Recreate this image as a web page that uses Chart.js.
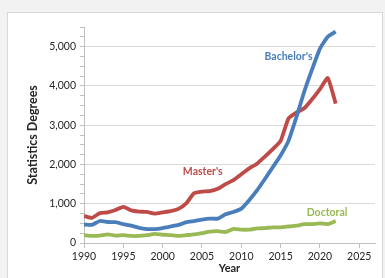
<!DOCTYPE html>
<html>
<head>
<meta charset="utf-8">
<script src="https://cdn.jsdelivr.net/npm/chart.js@4"></script>
<style>
  body { margin: 0; background: #f2f2f2; width: 385px; height: 278px; overflow: hidden; position: relative; }
  #frame { position: absolute; left: 7px; top: 12px; width: 374px; height: 300px; background: #fff; border: 1px solid #d9d9d9; }
  #chart { position: absolute; left: 0; top: 0; }
</style>
</head>
<body>
<div id="frame"></div>
<canvas id="chart" width="385" height="278"></canvas>
<script>
// Datos
const years = [1990,1991,1992,1993,1994,1995,1996,1997,1998,1999,2000,2001,2002,2003,2004,2005,2006,2007,2008,2009,2010,2011,2012,2013,2014,2015,2016,2017,2018,2019,2020,2021,2022];
const bachelors = [470,460,560,535,530,480,440,385,355,355,380,420,460,530,560,595,620,620,730,790,875,1090,1340,1630,1930,2230,2600,3200,3850,4420,4950,5250,5380];
const masters = [690,640,760,780,840,920,830,800,790,750,780,810,870,1010,1270,1310,1320,1380,1500,1600,1750,1900,2020,2200,2390,2600,3170,3320,3430,3660,3920,4200,3550];
const doctoral = [200,180,190,220,190,200,180,180,200,230,210,200,180,200,220,250,290,300,280,360,340,340,370,380,400,400,420,440,480,480,500,480,560];
const xTicks = [1990,1995,2000,2005,2010,2015,2020,2025];
const seriesNames = ["Bachelor's", "Master's", "Doctoral"];
// etiquetas de las series en coordenadas de datos (año, valor)
const labelYears = [2016, 2005.1, 2020.9];
const labelValues = [4740, 1810, 765];

const colors = ['#4a7ebb', '#be4b48', '#98b954'];
const FONT = 'Lato, "Open Sans", sans-serif';

function toPoints(arr) {
    return arr.map((v, i) => ({ x: years[i], y: v }));
}

// Plugin para dibujar los nombres de las series
const seriesLabels = {
    id: 'seriesLabels',
    afterDatasetsDraw(chart) {
        const { ctx, scales } = chart;
        ctx.save();
        ctx.font = 'bold 10.5px ' + FONT;
        ctx.textAlign = 'center';
        ctx.textBaseline = 'middle';
        seriesNames.forEach((name, i) => {
            ctx.fillStyle = colors[i];
            ctx.fillText(name, scales.x.getPixelForValue(labelYears[i]), scales.y.getPixelForValue(labelValues[i]));
        });
        ctx.restore();
    }
};

new Chart(document.getElementById('chart'), {
    type: 'line',
    data: {
        datasets: [bachelors, masters, doctoral].map((arr, i) => ({
            label: seriesNames[i],
            data: toPoints(arr),
            borderColor: colors[i],
            borderWidth: 3.8,
            tension: 0.15,
            pointRadius: 0,
            fill: false
        }))
    },
    options: {
        responsive: false,
        animation: false,
        layout: { padding: { top: 27, right: 10, left: 0, bottom: 0 } },
        plugins: { legend: { display: false }, tooltip: { enabled: false } },
        scales: {
            x: {
                type: 'linear',
                min: 1990,
                max: 2027,
                afterBuildTicks: (scale) => { scale.ticks = xTicks.map(v => ({ value: v })); },
                afterFit: (scale) => { scale.height = 35; },
                border: { color: '#bfbfbf', width: 1 },
                grid: { drawOnChartArea: false, tickLength: 5, tickColor: '#bfbfbf' },
                ticks: {
                    color: '#262626',
                    font: { family: FONT, size: 10.5 },
                    padding: 2,
                    maxRotation: 0,
                    callback: (v) => String(v)
                },
                title: {
                    display: true,
                    text: 'Year',
                    color: '#262626',
                    font: { family: FONT, size: 11, weight: 'bold' },
                    padding: { top: 0, bottom: 3 }
                }
            },
            y: {
                min: 0,
                max: 5500,
                afterFit: (scale) => { scale.width = 84; },
                border: { color: '#bfbfbf', width: 1 },
                grid: {
                    color: (c) => (c.tick && c.tick.value % 1000 === 0 && c.tick.value > 0) ? '#d9d9d9' : 'rgba(0,0,0,0)',
                    tickColor: '#bfbfbf',
                    tickLength: 4
                },
                ticks: {
                    stepSize: 250,
                    color: '#262626',
                    font: { family: FONT, size: 10.5 },
                    padding: 4,
                    autoSkip: false,
                    callback: (v) => v % 1000 === 0 ? v.toLocaleString('en-US') : ''
                },
                title: {
                    display: true,
                    text: 'Statistics Degrees',
                    color: '#262626',
                    font: { family: FONT, size: 12.5, weight: 'bold' },
                    padding: { top: 25, bottom: 0 }
                }
            }
        }
    },
    plugins: [seriesLabels]
});
</script>
</body>
</html>
